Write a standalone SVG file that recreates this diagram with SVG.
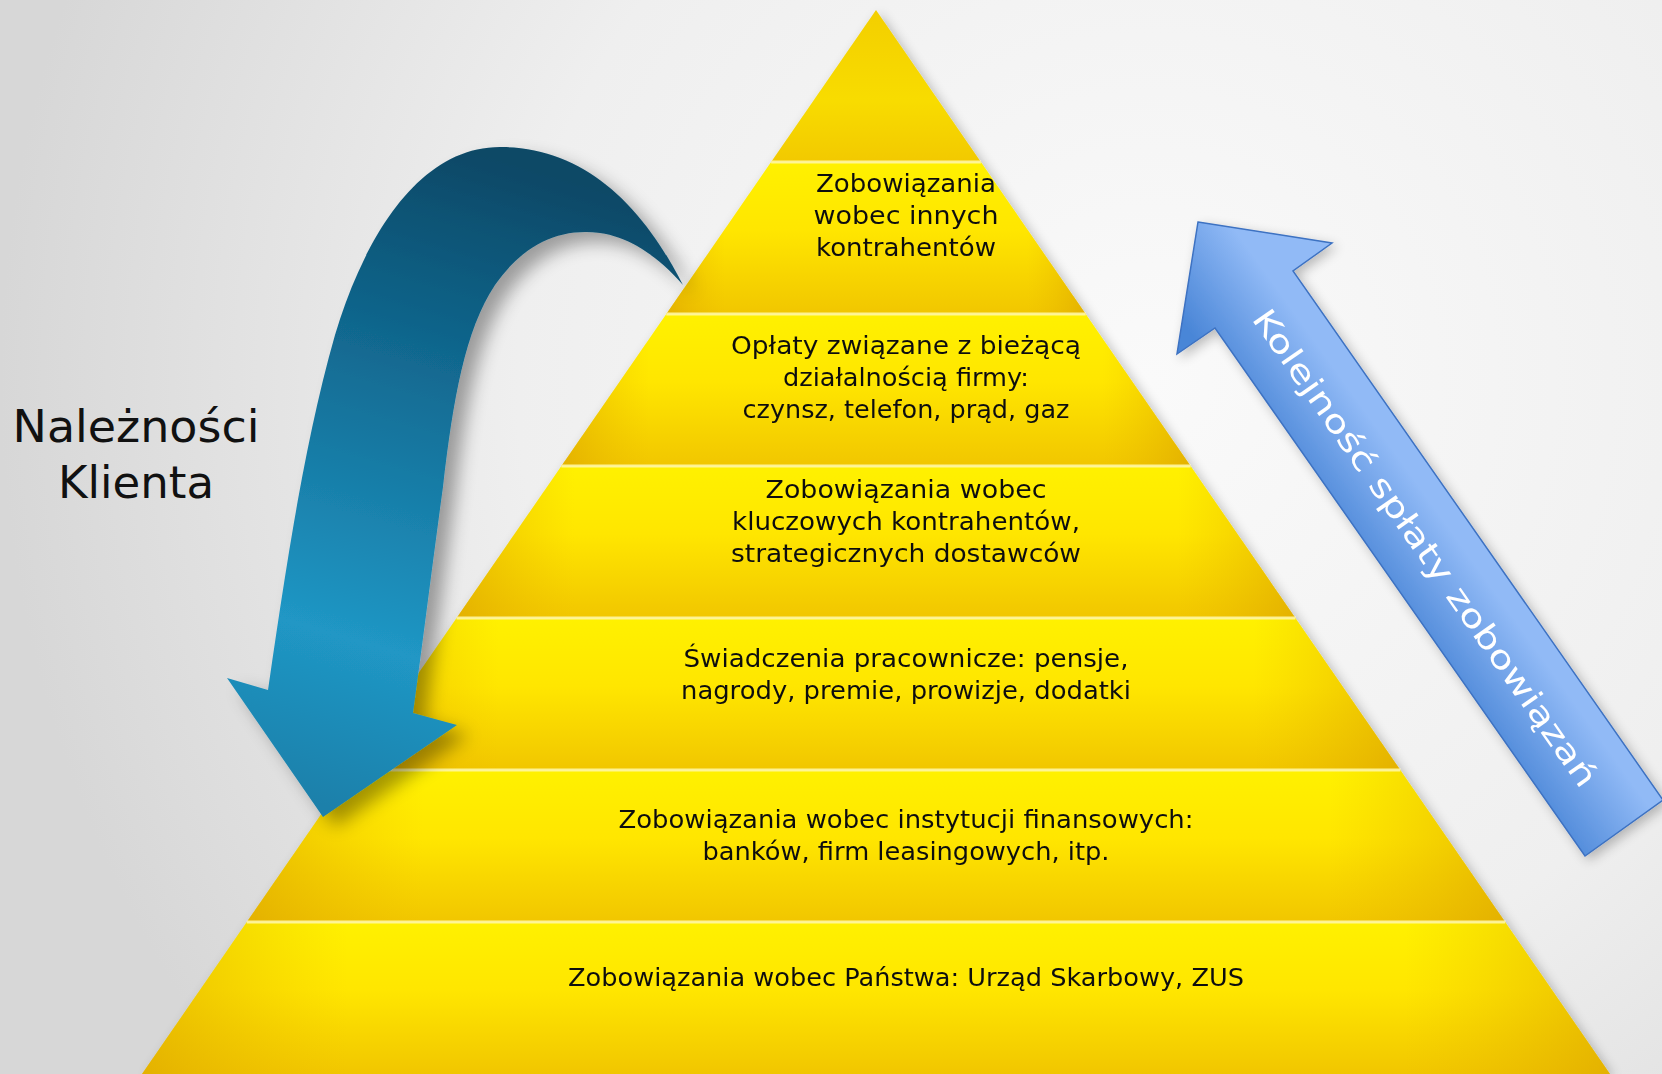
<svg xmlns="http://www.w3.org/2000/svg" width="1662" height="1074" viewBox="0 0 1662 1074">
<defs>
<radialGradient id="bg" cx="1150" cy="380" r="1150" gradientUnits="userSpaceOnUse">
<stop offset="0" stop-color="#fafafa"/>
<stop offset="0.55" stop-color="#efefef"/>
<stop offset="1" stop-color="#d7d7d7"/>
</radialGradient>
<linearGradient id="band" x1="0" y1="0" x2="0" y2="1">
<stop offset="0" stop-color="#fff100"/>
<stop offset="0.45" stop-color="#ffe600"/>
<stop offset="1" stop-color="#f1c600"/>
</linearGradient>
<linearGradient id="bandTop" x1="0" y1="0" x2="0" y2="1">
<stop offset="0" stop-color="#f3cf00"/>
<stop offset="0.6" stop-color="#f8dc00"/>
<stop offset="1" stop-color="#f2c900"/>
</linearGradient>
<linearGradient id="sides" x1="0" y1="0" x2="1" y2="0">
<stop offset="0" stop-color="#d9a000" stop-opacity="0.55"/>
<stop offset="0.14" stop-color="#e8b800" stop-opacity="0"/>
<stop offset="0.86" stop-color="#e8b800" stop-opacity="0"/>
<stop offset="1" stop-color="#d9a000" stop-opacity="0.55"/>
</linearGradient>
<linearGradient id="curveGrad" x1="0.5" y1="0" x2="0.3" y2="1">
<stop offset="0" stop-color="#0a4866"/>
<stop offset="0.3" stop-color="#11678e"/>
<stop offset="0.75" stop-color="#2097c5"/>
<stop offset="1" stop-color="#1b80aa"/>
</linearGradient>
<linearGradient id="blueGrad" x1="1381" y1="598" x2="1459" y2="542" gradientUnits="userSpaceOnUse">
<stop offset="0" stop-color="#4a86d7"/>
<stop offset="1" stop-color="#91baf6"/>
</linearGradient>
<filter id="shadow" x="-20%" y="-20%" width="150%" height="150%">
<feGaussianBlur in="SourceAlpha" stdDeviation="9"/>
<feOffset dx="12" dy="10" result="b"/>
<feComponentTransfer><feFuncA type="linear" slope="0.35"/></feComponentTransfer>
<feMerge><feMergeNode/><feMergeNode in="SourceGraphic"/></feMerge>
</filter>
<filter id="softShadow" x="-10%" y="-10%" width="120%" height="120%">
<feGaussianBlur in="SourceAlpha" stdDeviation="6"/>
<feOffset dx="4" dy="4"/>
<feComponentTransfer><feFuncA type="linear" slope="0.25"/></feComponentTransfer>
<feMerge><feMergeNode/><feMergeNode in="SourceGraphic"/></feMerge>
</filter>
</defs>
<style>
.lbl{font-family:"DejaVu Sans","Liberation Sans",sans-serif;font-size:24px;fill:#111;text-anchor:middle;}
.big{font-family:"DejaVu Sans","Liberation Sans",sans-serif;font-size:44px;fill:#111;text-anchor:middle;}
.sep{stroke:#fff7a6;stroke-width:3;opacity:0.9;}
.arrowtxt{font-family:"DejaVu Sans","Liberation Sans",sans-serif;font-size:32px;fill:#ffffff;text-anchor:middle;}
</style>
<rect x="0" y="0" width="1662" height="1074" fill="url(#bg)"/>

<g id="pyramid" filter="url(#softShadow)">
<g id="band-0">
<polygon points="876,10 980.9,162 771.1,162" fill="url(#bandTop)"/>
</g>
<g id="band-1">
<polygon points="771.1,162 980.9,162 1085.7,314 666.3,314" fill="url(#band)"/>
<polygon points="771.1,162 980.9,162 1085.7,314 666.3,314" fill="url(#sides)"/>
<text class="lbl" x="906" y="192" textLength="180" lengthAdjust="spacingAndGlyphs">Zobowiązania</text>
<text class="lbl" x="906" y="224" textLength="185" lengthAdjust="spacingAndGlyphs">wobec innych</text>
<text class="lbl" x="906" y="256" textLength="180" lengthAdjust="spacingAndGlyphs">kontrahentów</text>
</g>
<g id="band-2">
<polygon points="666.3,314 1085.7,314 1190.6,466 561.4,466" fill="url(#band)"/>
<polygon points="666.3,314 1085.7,314 1190.6,466 561.4,466" fill="url(#sides)"/>
<text class="lbl" x="906" y="354" textLength="350" lengthAdjust="spacingAndGlyphs">Opłaty związane z bieżącą</text>
<text class="lbl" x="906" y="386" textLength="246" lengthAdjust="spacingAndGlyphs">działalnością firmy:</text>
<text class="lbl" x="906" y="418" textLength="327" lengthAdjust="spacingAndGlyphs">czynsz, telefon, prąd, gaz</text>
</g>
<g id="band-3">
<polygon points="561.4,466 1190.6,466 1295.4,618 456.6,618" fill="url(#band)"/>
<polygon points="561.4,466 1190.6,466 1295.4,618 456.6,618" fill="url(#sides)"/>
<text class="lbl" x="906" y="498" textLength="281" lengthAdjust="spacingAndGlyphs">Zobowiązania wobec</text>
<text class="lbl" x="906" y="530" textLength="348" lengthAdjust="spacingAndGlyphs">kluczowych kontrahentów,</text>
<text class="lbl" x="906" y="562" textLength="350" lengthAdjust="spacingAndGlyphs">strategicznych dostawców</text>
</g>
<g id="band-4">
<polygon points="456.6,618 1295.4,618 1400.3,770 351.7,770" fill="url(#band)"/>
<polygon points="456.6,618 1295.4,618 1400.3,770 351.7,770" fill="url(#sides)"/>
<text class="lbl" x="906" y="667" textLength="445" lengthAdjust="spacingAndGlyphs">Świadczenia pracownicze: pensje,</text>
<text class="lbl" x="906" y="699" textLength="450" lengthAdjust="spacingAndGlyphs">nagrody, premie, prowizje, dodatki</text>
</g>
<g id="band-5">
<polygon points="351.7,770 1400.3,770 1505.2,922 246.8,922" fill="url(#band)"/>
<polygon points="351.7,770 1400.3,770 1505.2,922 246.8,922" fill="url(#sides)"/>
<text class="lbl" x="906" y="828" textLength="575" lengthAdjust="spacingAndGlyphs">Zobowiązania wobec instytucji finansowych:</text>
<text class="lbl" x="906" y="860" textLength="407" lengthAdjust="spacingAndGlyphs">banków, firm leasingowych, itp.</text>
</g>
<g id="band-6">
<polygon points="246.8,922 1505.2,922 1610,1074 142,1074" fill="url(#band)"/>
<polygon points="246.8,922 1505.2,922 1610,1074 142,1074" fill="url(#sides)"/>
<text class="lbl" x="906" y="986" textLength="676" lengthAdjust="spacingAndGlyphs">Zobowiązania wobec Państwa: Urząd Skarbowy, ZUS</text>
</g>
<g id="separators">
<line class="sep" x1="771.1" y1="162" x2="980.9" y2="162"/>
<line class="sep" x1="666.3" y1="314" x2="1085.7" y2="314"/>
<line class="sep" x1="561.4" y1="466" x2="1190.6" y2="466"/>
<line class="sep" x1="456.6" y1="618" x2="1295.4" y2="618"/>
<line class="sep" x1="351.7" y1="770" x2="1400.3" y2="770"/>
<line class="sep" x1="246.8" y1="922" x2="1505.2" y2="922"/>
</g>
</g>

<g id="label-naleznosci">
<text class="big" x="136" y="442" textLength="247" lengthAdjust="spacingAndGlyphs">Należności</text>
<text class="big" x="136" y="498" textLength="156" lengthAdjust="spacingAndGlyphs">Klienta</text>
</g>

<g id="connectors">
<g id="curved-arrow" filter="url(#shadow)">
<path d="M 683,285 C 640,200 580,147 500,147 C 420,147 365,235 335,335 C 305,440 287,560 268,690 L 227,678 L 323,817 L 457,725 L 413,713 C 423,640 433,560 443,487 C 453,400 465,330 495,285 C 525,243 560,228 600,233 C 630,237 660,258 683,285 Z" fill="url(#curveGrad)"/>
</g>
<g id="order-arrow" filter="url(#softShadow)">
<polygon points="1198,222 1332,243 1293,271 1663,800 1585,856 1215,328 1177,354" fill="url(#blueGrad)" stroke="#3d72c2" stroke-width="1.5"/>
<text class="arrowtxt" transform="translate(1425,548) rotate(55)" y="11" textLength="575" lengthAdjust="spacingAndGlyphs">Kolejność  spłaty  zobowiązań</text>
</g>
</g>
</svg>
